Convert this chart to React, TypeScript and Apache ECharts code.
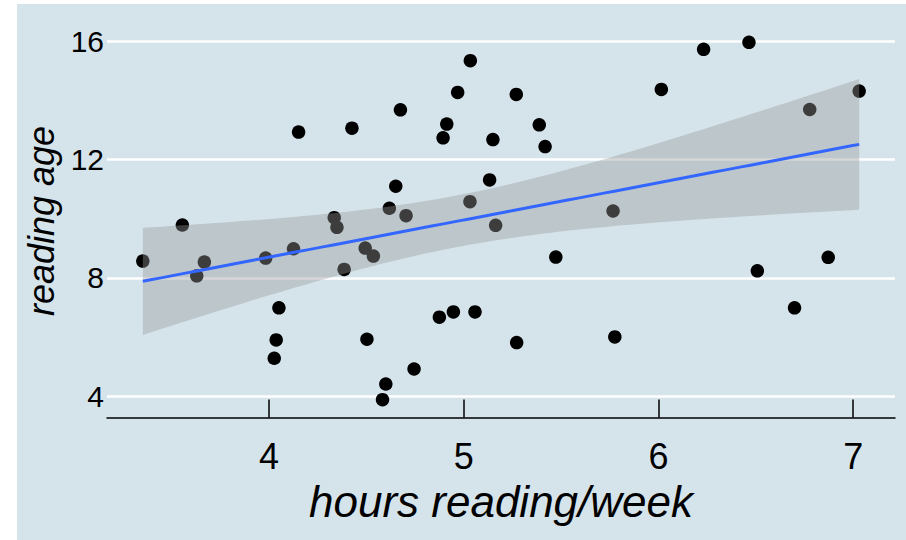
import React, { useEffect, useRef } from "react";
import * as echarts from "echarts";

const hoursPerWeek = [
  3.352, 3.555, 3.668, 3.629, 3.983, 4.126, 4.335, 4.349, 4.386, 4.051,
  4.037, 4.027, 4.426, 4.675, 5.034, 4.969, 5.27, 4.913, 4.894, 5.15,
  5.388, 5.418, 4.651, 4.618, 4.704, 5.133, 5.032, 5.164, 4.494, 4.536,
  5.473, 4.875, 4.947, 5.058, 4.503, 5.272, 4.745, 4.6, 4.583, 4.152,
  6.232, 6.465, 6.015, 7.031, 6.777, 5.767, 6.508, 6.872, 6.699, 5.776,
];
const readingAge = [
  8.566, 9.786, 8.532, 8.068, 8.668, 8.983, 10.034, 9.708, 8.285, 6.983,
  5.898, 5.278, 13.064, 13.685, 15.346, 14.271, 14.203, 13.2, 12.736, 12.678,
  13.176, 12.441, 11.098, 10.353, 10.102, 11.312, 10.576, 9.776, 9.007, 8.736,
  8.702, 6.668, 6.847, 6.847, 5.922, 5.81, 4.915, 4.407, 3.878, 12.929,
  15.729, 15.966, 14.373, 14.319, 13.695, 10.261, 8.237, 8.692, 6.983, 6.0,
];
const xTicks = [4, 5, 6, 7];
const yTicks = [4, 8, 12, 16];
const xTitle = "hours reading/week";
const yTitle = "reading age";

function linearFit(xs: number[], ys: number[], nOut: number) {
  const n = xs.length;
  const mx = xs.reduce((a, b) => a + b, 0) / n;
  const my = ys.reduce((a, b) => a + b, 0) / n;
  let sxx = 0;
  let sxy = 0;
  for (let i = 0; i < n; i++) {
    sxx += (xs[i] - mx) ** 2;
    sxy += (xs[i] - mx) * (ys[i] - my);
  }
  const b = sxy / sxx;
  const a = my - b * mx;
  let sse = 0;
  for (let i = 0; i < n; i++) sse += (ys[i] - (a + b * xs[i])) ** 2;
  const s = Math.sqrt(sse / (n - 2));
  const t = 2.0106;
  const xmin = Math.min(...xs);
  const xmax = Math.max(...xs);
  const fit: number[][] = [];
  const hi: number[][] = [];
  const lo: number[][] = [];
  for (let i = 0; i < nOut; i++) {
    const x = xmin + ((xmax - xmin) * i) / (nOut - 1);
    const yh = a + b * x;
    const se = s * Math.sqrt(1 / n + (x - mx) ** 2 / sxx);
    fit.push([x, yh]);
    hi.push([x, yh + t * se]);
    lo.push([x, yh - t * se]);
  }
  return { fit, hi, lo };
}

function expand(v: number[]) {
  const mn = Math.min(...v);
  const mx = Math.max(...v);
  const r = mx - mn;
  return [mn - 0.05 * r, mx + 0.05 * r];
}

const FONT = "'Liberation Sans', Arial, Helvetica, sans-serif";

export default function App() {
  const ref = useRef<HTMLDivElement>(null);
  useEffect(() => {
    document.body.style.margin = "0";
    if (!ref.current) return;
    const chart = echarts.init(ref.current, undefined, { renderer: "svg" });
    const { fit, hi, lo } = linearFit(hoursPerWeek, readingAge, 80);
    const [xmin, xmax] = expand(hoursPerWeek);
    const [ymin, ymax] = expand(readingAge);
    const points = hoursPerWeek.map((x, i) => [x, readingAge[i]]);
    chart.setOption({
      animation: false,
      backgroundColor: "#ffffff",
      graphic: [
        {
          type: "rect",
          z: -10,
          silent: true,
          shape: { x: 17, y: 4, width: 889, height: 536 },
          style: { fill: "#d5e4eb" },
        },
      ],
      grid: {
        left: 107,
        right: 11,
        top: 24.5,
        bottom: 122.5,
        containLabel: false,
        outerBoundsMode: "none",
      },
      xAxis: {
        type: "value",
        min: xmin,
        max: xmax,
        name: xTitle,
        nameLocation: "middle",
        nameGap: 61,
        nameTextStyle: {
          fontFamily: FONT,
          fontSize: 44,
          fontStyle: "italic",
          color: "#000",
        },
        axisLine: { show: true, lineStyle: { color: "#000", width: 1.5 } },
        axisTick: {
          show: true,
          inside: true,
          length: 18,
          customValues: xTicks,
          lineStyle: { color: "#000", width: 1.5 },
        },
        axisLabel: {
          customValues: xTicks,
          fontFamily: FONT,
          fontSize: 36,
          color: "#000",
          margin: 21,
        },
        splitLine: { show: false },
      },
      yAxis: {
        type: "value",
        min: ymin,
        max: ymax,
        name: yTitle,
        nameLocation: "middle",
        nameGap: 40,
        nameTextStyle: {
          fontFamily: FONT,
          fontSize: 36,
          fontStyle: "italic",
          color: "#000",
        },
        axisLine: { show: false },
        axisTick: { show: false },
        axisLabel: {
          customValues: yTicks,
          fontFamily: FONT,
          fontSize: 30,
          color: "#000",
          margin: 3,
        },
        splitLine: { show: false },
      },
      series: [
        {
          type: "scatter",
          data: points,
          symbolSize: 13.5,
          itemStyle: { color: "#000", opacity: 1 },
          z: 2,
          silent: true,
          markLine: {
            z: 1,
            silent: true,
            symbol: ["none", "none"],
            label: { show: false },
            lineStyle: { color: "#ffffff", width: 2.5, type: "solid" },
            emphasis: { disabled: true },
            data: yTicks.map((v) => ({ yAxis: v })),
          },
        },
        {
          type: "custom",
          z: 3,
          silent: true,
          clip: true,
          data: [fit[0]],
          renderItem: (_params: any, api: any) => {
            const upper = hi.map((p) => api.coord(p));
            const lower = lo
              .slice()
              .reverse()
              .map((p) => api.coord(p));
            return {
              type: "polygon",
              shape: { points: upper.concat(lower) },
              style: { fill: "rgba(153,153,153,0.4)", stroke: "none" },
            };
          },
        },
        {
          type: "line",
          z: 4,
          silent: true,
          data: fit,
          showSymbol: false,
          symbol: "none",
          lineStyle: { color: "#3366FF", width: 3 },
        },
      ],
    });
    return () => chart.dispose();
  }, []);
  return <div ref={ref} style={{ width: 906, height: 540 }} />;
}
